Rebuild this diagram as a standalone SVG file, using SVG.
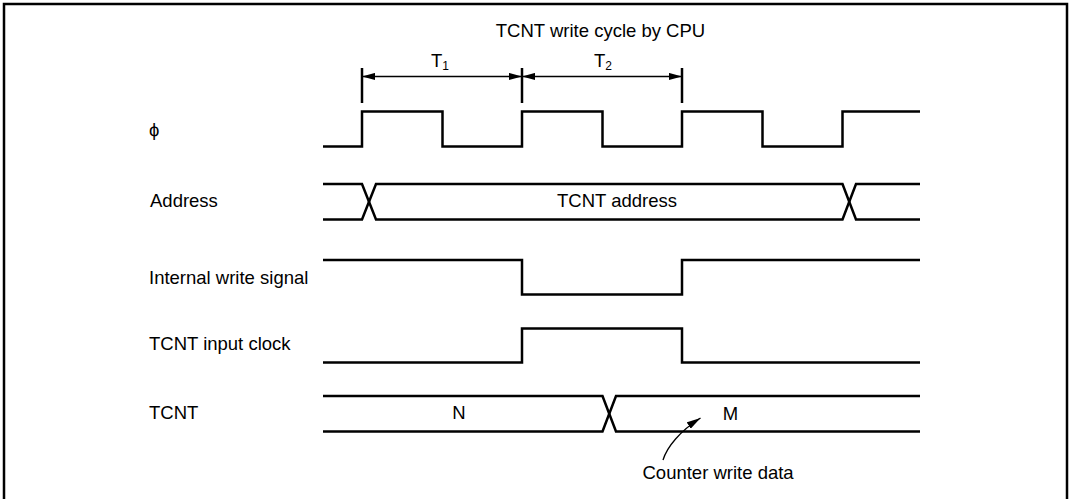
<svg xmlns="http://www.w3.org/2000/svg" width="1074" height="499" viewBox="0 0 1074 499">
<style>
.sig{fill:none;stroke:#000;stroke-width:2.5;stroke-linejoin:miter;stroke-linecap:butt}
.dim{fill:none;stroke:#000;stroke-width:1.3}
.tick{stroke:#000;stroke-width:2.5}
.lbl{font-family:"Liberation Sans",Arial,Helvetica,sans-serif;font-size:18.5px;fill:#000}
.mid{text-anchor:middle}
</style>
<defs>
<marker id="arr" viewBox="0 -4 13 8" refX="13" refY="0" markerWidth="13" markerHeight="8" markerUnits="userSpaceOnUse" orient="auto-start-reverse">
<path d="M0,-3.6 L13,0 L0,3.6 z" fill="#000"/>
</marker>
<marker id="arr2" viewBox="0 -4 14 8" refX="14" refY="0" markerWidth="14" markerHeight="8" markerUnits="userSpaceOnUse" orient="auto">
<path d="M0,-3.8 L14,0 L0,3.8 z" fill="#000"/>
</marker>
</defs>
<rect x="4" y="4" width="1063" height="520" fill="#fff" stroke="#000" stroke-width="2.5"/>

<g id="title">
<text class="lbl mid" x="600.5" y="37">TCNT write cycle by CPU</text>
</g>

<g id="cycle-ticks">
<line class="tick" x1="362" y1="68" x2="362" y2="103"/>
<line class="tick" x1="522" y1="68" x2="522" y2="103"/>
<line class="tick" x1="682" y1="68" x2="682" y2="103"/>
<text class="lbl" x="431" y="67">T<tspan font-size="12" dy="3">1</tspan></text>
<text class="lbl" x="594" y="67">T<tspan font-size="12" dy="3">2</tspan></text>
</g>

<g id="phi">
<text class="lbl" x="149" y="136" font-size="17">ϕ</text>
<path class="sig" d="M323,146.5 H362 V111.5 H442.5 V146.5 H522 V111.5 H602.5 V146.5 H682 V111.5 H762.5 V146.5 H842.5 V111.5 H920"/>
</g>

<g id="address">
<text class="lbl" x="150" y="207">Address</text>
<path class="sig" d="M323,184 H362 L376,219.5 H842.5 L856,184 H920"/>
<path class="sig" d="M323,219.5 H362 L376,184 H842.5 L856,219.5 H920"/>
<text class="lbl mid" x="617" y="207">TCNT address</text>
</g>

<g id="internal-write">
<text class="lbl" x="149" y="284">Internal write signal</text>
<path class="sig" d="M323,260 H522 V294.5 H682 V260 H920"/>
</g>

<g id="input-clock">
<text class="lbl" x="149" y="350">TCNT input clock</text>
<path class="sig" d="M323,362.5 H522 V328.5 H682 V362.5 H920"/>
</g>

<g id="tcnt">
<text class="lbl" x="149" y="419">TCNT</text>
<path class="sig" d="M323,396 H602.5 L616,431.5 H920"/>
<path class="sig" d="M323,431.5 H602.5 L616,396 H920"/>
<text class="lbl mid" x="459" y="419">N</text>
<text class="lbl mid" x="730.5" y="420">M</text>
</g>

<g id="note">
<text class="lbl" x="642.5" y="479">Counter write data</text>
</g>

<g id="connectors">
<line class="dim" x1="362" y1="76.5" x2="522" y2="76.5" marker-start="url(#arr)" marker-end="url(#arr)"/>
<line class="dim" x1="522" y1="76.5" x2="682" y2="76.5" marker-start="url(#arr)" marker-end="url(#arr)"/>
<path class="dim" d="M663,460 C667,447 680,431 700.5,418" marker-end="url(#arr2)"/>
</g>
</svg>
